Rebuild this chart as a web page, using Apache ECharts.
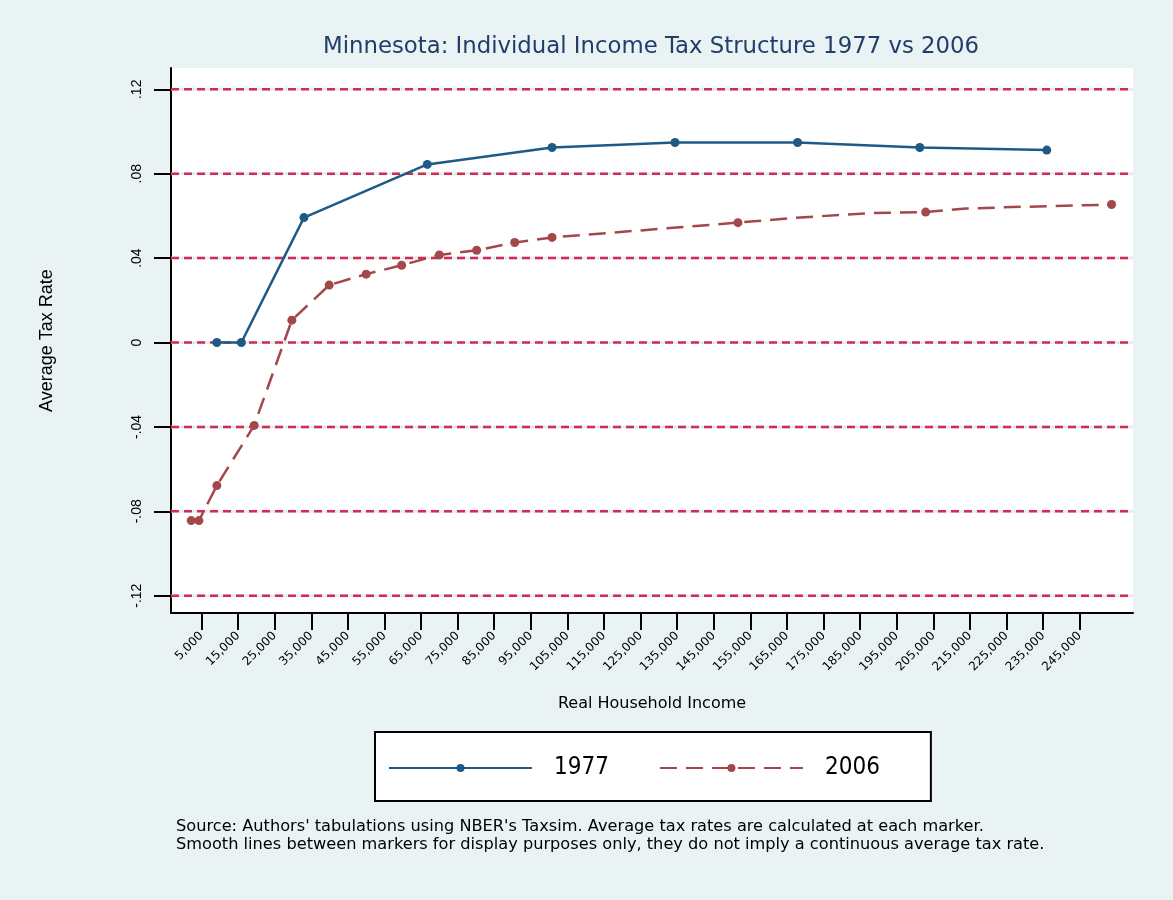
<!DOCTYPE html>
<html>
<head>
<meta charset="utf-8">
<script src="https://cdn.jsdelivr.net/npm/echarts@6/dist/echarts.min.js"></script>
<style>
  html, body { margin: 0; padding: 0; background: #eaf3f3; }
  #chart { width: 1173px; height: 900px; }
</style>
</head>
<body>
<div id="chart"></div>
<script>
// Real household income (dollars) and average Minnesota tax rate, 1977 schedule
const incomes1977 = [9200, 15900, 33000, 66700, 100800, 134400, 167900, 201300, 236000];
const rates1977   = [0, 0, 0.0592, 0.0844, 0.0924, 0.0948, 0.0948, 0.0924, 0.0912];

// 2006 schedule: rates along the smoothed curve; markers only where computed
const incomes2006 = [2200, 4300, 9200, 19400, 29700, 39900, 50000, 59700, 70000, 80200,
  90600, 100800, 151600, 167100, 188700, 202900, 213900, 228900, 243700, 253700];
const rates2006 = [-0.0844, -0.0844, -0.0678, -0.0393, 0.0106, 0.0272, 0.0324, 0.0366, 0.0415, 0.0437,
  0.0474, 0.0498, 0.0568, 0.0591, 0.0614, 0.0618, 0.0635, 0.0643, 0.0649, 0.0654];
const markedIncomes2006 = [2200, 4300, 9200, 19400, 29700, 39900, 50000, 59700, 70000,
  80200, 90600, 100800, 151600, 202900, 253700];

// Axis ranges and tick values
const xRange = [-3330, 259560];
const yRange = [-0.1282, 0.1301];
const xTickValues = [5000, 15000, 25000, 35000, 45000, 55000, 65000, 75000, 85000, 95000,
  105000, 115000, 125000, 135000, 145000, 155000, 165000, 175000, 185000, 195000,
  205000, 215000, 225000, 235000, 245000];
const yTickValues = [-0.12, -0.08, -0.04, 0, 0.04, 0.08, 0.12];

const seriesNames = ['1977', '2006'];
const titleText = 'Minnesota: Individual Income Tax Structure 1977 vs 2006';
const noteLines = [
  "Source: Authors' tabulations using NBER's Taxsim. Average tax rates are calculated at each marker.",
  'Smooth lines between markers for display purposes only, they do not imply a continuous average tax rate.'
];

const BLUE = '#1f5a86';
const RED = '#a3474b';
const GRID_RED = '#d62a50';
const SANS = '"DejaVu Sans", sans-serif';
const CONDENSED = '"DejaVu Sans Condensed", "Liberation Sans Narrow", "DejaVu Sans", sans-serif';

function fmtRate(v) {
  if (Math.abs(v) < 1e-9) return '0';
  return (v < 0 ? '-' : '') + Math.abs(v).toFixed(2).replace(/^0/, '');
}
function fmtIncome(v) {
  return Math.round(v).toLocaleString('en-US');
}

const data1977 = incomes1977.map((x, i) => [x, rates1977[i]]);
const data2006 = incomes2006.map((x, i) => {
  const item = { value: [x, rates2006[i]] };
  if (!markedIncomes2006.includes(x)) item.symbol = 'none';
  return item;
});

// Horizontal reference lines across the full x range at each labelled rate:
// a pale solid band with a crimson dashed line on top
const gridSeries = [];
yTickValues.forEach(v => {
  const span = [[xRange[0], v], [xRange[1], v]];
  gridSeries.push({
    type: 'line', data: span, silent: true, z: 1, symbol: 'none',
    lineStyle: { color: '#e4eef0', width: 3, type: 'solid' }
  });
  gridSeries.push({
    type: 'line', data: span, silent: true, z: 1, symbol: 'none',
    lineStyle: { color: GRID_RED, width: 2.5, type: [8, 5] }
  });
});

const chart = echarts.init(document.getElementById('chart'), null, { renderer: 'canvas' });
chart.setOption({
  animation: false,
  backgroundColor: '#eaf3f3',
  title: {
    text: titleText,
    left: 651,
    top: 36,
    textAlign: 'center',
    padding: 0,
    textStyle: { fontFamily: SANS, fontSize: 22.8, fontWeight: 'normal', color: '#213d6b' }
  },
  grid: {
    left: 171, top: 68, width: 962, height: 545,
    show: true, backgroundColor: '#ffffff', borderWidth: 0
  },
  legend: {
    data: seriesNames,
    left: 375, top: 732,
    backgroundColor: '#ffffff',
    borderColor: '#000000', borderWidth: 2,
    padding: [24, 51, 21, 13],
    itemWidth: 143, itemHeight: 10, itemGap: 50,
    textStyle: { fontFamily: CONDENSED, fontSize: 24, color: '#000', padding: [0, 0, 0, 17] }
  },
  xAxis: {
    type: 'value',
    min: xRange[0], max: xRange[1],
    name: 'Real Household Income',
    nameLocation: 'middle',
    nameGap: 83,
    nameTextStyle: { fontFamily: SANS, fontSize: 16, color: '#000' },
    axisLine: { show: true, onZero: false, lineStyle: { color: '#000', width: 2 } },
    axisTick: { show: true, customValues: xTickValues, length: 17, lineStyle: { color: '#000', width: 2 } },
    axisLabel: {
      customValues: xTickValues, rotate: 45, margin: 21,
      fontFamily: SANS, fontSize: 12, color: '#000',
      formatter: fmtIncome
    },
    splitLine: { show: false }
  },
  yAxis: {
    type: 'value',
    min: yRange[0], max: yRange[1],
    name: 'Average Tax Rate',
    nameLocation: 'middle',
    nameGap: 115,
    nameTextStyle: { fontFamily: 'Liberation Sans', fontSize: 18, color: '#000' },
    axisLine: { show: true, onZero: false, lineStyle: { color: '#000', width: 2 } },
    axisTick: { show: true, customValues: yTickValues, length: 17, lineStyle: { color: '#000', width: 2 } },
    axisLabel: {
      customValues: yTickValues, rotate: 90, margin: 27,
      fontFamily: 'Liberation Sans', fontSize: 14, color: '#000',
      formatter: fmtRate
    },
    splitLine: { show: false }
  },
  graphic: noteLines.map((t, i) => ({
    type: 'text',
    left: 176,
    top: 819 + i * 18,
    style: { text: t, fontFamily: SANS, fontSize: 16.2, fill: '#000' }
  })),
  series: gridSeries.concat([
    {
      name: seriesNames[0],
      type: 'line', z: 5,
      data: data1977,
      symbol: 'circle', symbolSize: 9,
      lineStyle: { color: BLUE, width: 2.5 },
      itemStyle: { color: BLUE }
    },
    {
      name: seriesNames[1],
      type: 'line', z: 5,
      data: data2006,
      symbol: 'circle', symbolSize: 9,
      lineStyle: { color: RED, width: 2.5, type: [17, 9] },
      itemStyle: { color: RED }
    }
  ])
});
</script>
</body>
</html>
